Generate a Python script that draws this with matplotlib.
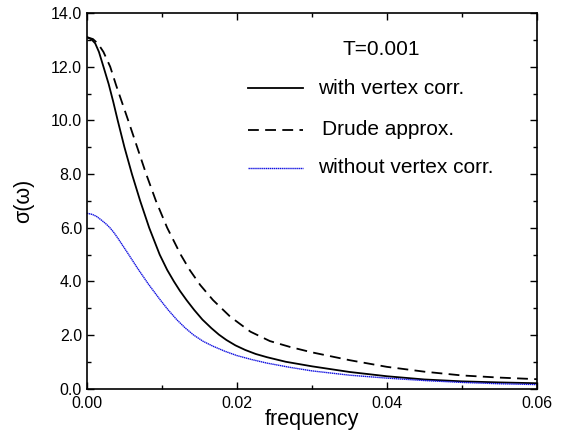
import numpy as np
import matplotlib
matplotlib.use('Agg')
import matplotlib.pyplot as plt
from matplotlib.ticker import MultipleLocator, FormatStrFormatter

plt.rcParams['font.family'] = ['Liberation Sans', 'DejaVu Sans']

# 값
freq_vc = [0.0, 0.0006, 0.0011, 0.0016, 0.0022, 0.0029, 0.0035, 0.0041, 0.0050, 0.0060,
           0.0071, 0.0083, 0.0097, 0.0107, 0.0116, 0.0124, 0.0133, 0.0143, 0.0154,
           0.0166, 0.0176, 0.0186, 0.0198, 0.0211, 0.0225, 0.0240, 0.0265, 0.0300,
           0.0350, 0.0400, 0.0450, 0.0500, 0.0550, 0.0600]
sigma_vc = [13.10, 13.02, 12.87, 12.55, 12.00, 11.35, 10.70, 10.00, 9.00, 8.00,
            7.00, 6.00, 5.00, 4.43, 4.00, 3.65, 3.30, 2.94, 2.58,
            2.26, 2.02, 1.82, 1.62, 1.45, 1.30, 1.18, 1.01, 0.84,
            0.63, 0.47, 0.35, 0.28, 0.24, 0.21]

freq_drude = [0.0, 0.0008, 0.0015, 0.0022, 0.0031, 0.0039, 0.0047, 0.0055, 0.0067, 0.0079,
              0.0092, 0.0107, 0.0125, 0.0137, 0.0151, 0.0168, 0.0191, 0.0218, 0.0244,
              0.0271, 0.0300, 0.0350, 0.0400, 0.0450, 0.0500, 0.0550, 0.0600]
sigma_drude = [13.10, 13.03, 12.85, 12.55, 12.00, 11.30, 10.65, 10.00, 9.00, 8.00,
               7.00, 6.00, 5.00, 4.43, 3.87, 3.31, 2.69, 2.13, 1.78,
               1.56, 1.36, 1.07, 0.82, 0.64, 0.50, 0.42, 0.36]

freq_novc = [0.0, 0.0007, 0.0013, 0.0020, 0.0026, 0.0031, 0.0036, 0.0042, 0.0055, 0.0068,
             0.0082, 0.0097, 0.0108, 0.0120, 0.0131, 0.0142, 0.0155, 0.0168, 0.0184,
             0.0200, 0.0220, 0.0240, 0.0271, 0.0300, 0.0350, 0.0400, 0.0450, 0.0500,
             0.0550, 0.0600]
sigma_novc = [6.54, 6.50, 6.42, 6.27, 6.13, 5.99, 5.82, 5.58, 5.03, 4.47,
              3.90, 3.34, 2.95, 2.57, 2.27, 2.01, 1.77, 1.59, 1.40,
              1.24, 1.09, 0.96, 0.80, 0.67, 0.51, 0.40, 0.31, 0.24,
              0.19, 0.16]

legend_labels = ['with vertex corr.', 'Drude approx.', 'without vertex corr.']
temp_label = 'T=0.001'

# 시각화
fig = plt.figure(figsize=(5.61, 4.34), dpi=100)
ax = fig.add_axes([0.155, 0.104, 0.802, 0.866])

solid = dict(c='black', lw=1.3)
dashed = dict(c='black', lw=1.3, linestyle=(0, (6, 3.5)))
dotted = dict(c='#1010e0', lw=1.0, linestyle=(0, (1, 0.4)))

ax.plot(freq_vc, sigma_vc, **solid)
ax.plot(freq_drude, sigma_drude, **dashed)
ax.plot(freq_novc, sigma_novc, **dotted)

ax.set_xlim(0, 0.06)
ax.set_ylim(0, 14)
ax.xaxis.set_major_locator(MultipleLocator(0.02))
ax.xaxis.set_minor_locator(MultipleLocator(0.01))
ax.yaxis.set_major_locator(MultipleLocator(2))
ax.yaxis.set_minor_locator(MultipleLocator(1))
ax.xaxis.set_major_formatter(FormatStrFormatter('%.2f'))
ax.yaxis.set_major_formatter(FormatStrFormatter('%.1f'))
ax.tick_params(which='both', direction='in', top=True, right=True, labelsize=11.5, width=1.0)
ax.tick_params(which='major', length=5)
ax.tick_params(which='minor', length=3)
ax.tick_params(axis='x', pad=5)
for s in ax.spines.values():
    s.set_linewidth(1.2)

ax.set_xlabel('frequency', fontsize=15.5, labelpad=-1)
ax.set_ylabel('σ(ω)', fontsize=15.5, labelpad=12)

# 범례 (수동)
ax.text(0.569, 0.902, temp_label, transform=ax.transAxes, fontsize=15, va='center')
leg_y = [0.80, 0.689, 0.588]
leg_tx = [0.513, 0.522, 0.513]
for y, tx, lab, st in zip(leg_y, leg_tx, legend_labels, [solid, dashed, dotted]):
    ax.plot([0.358, 0.48], [y, y], transform=ax.transAxes, **st)
    ax.text(tx, y, lab, transform=ax.transAxes, fontsize=15, va='center')

fig.savefig('out.png', dpi=100)
